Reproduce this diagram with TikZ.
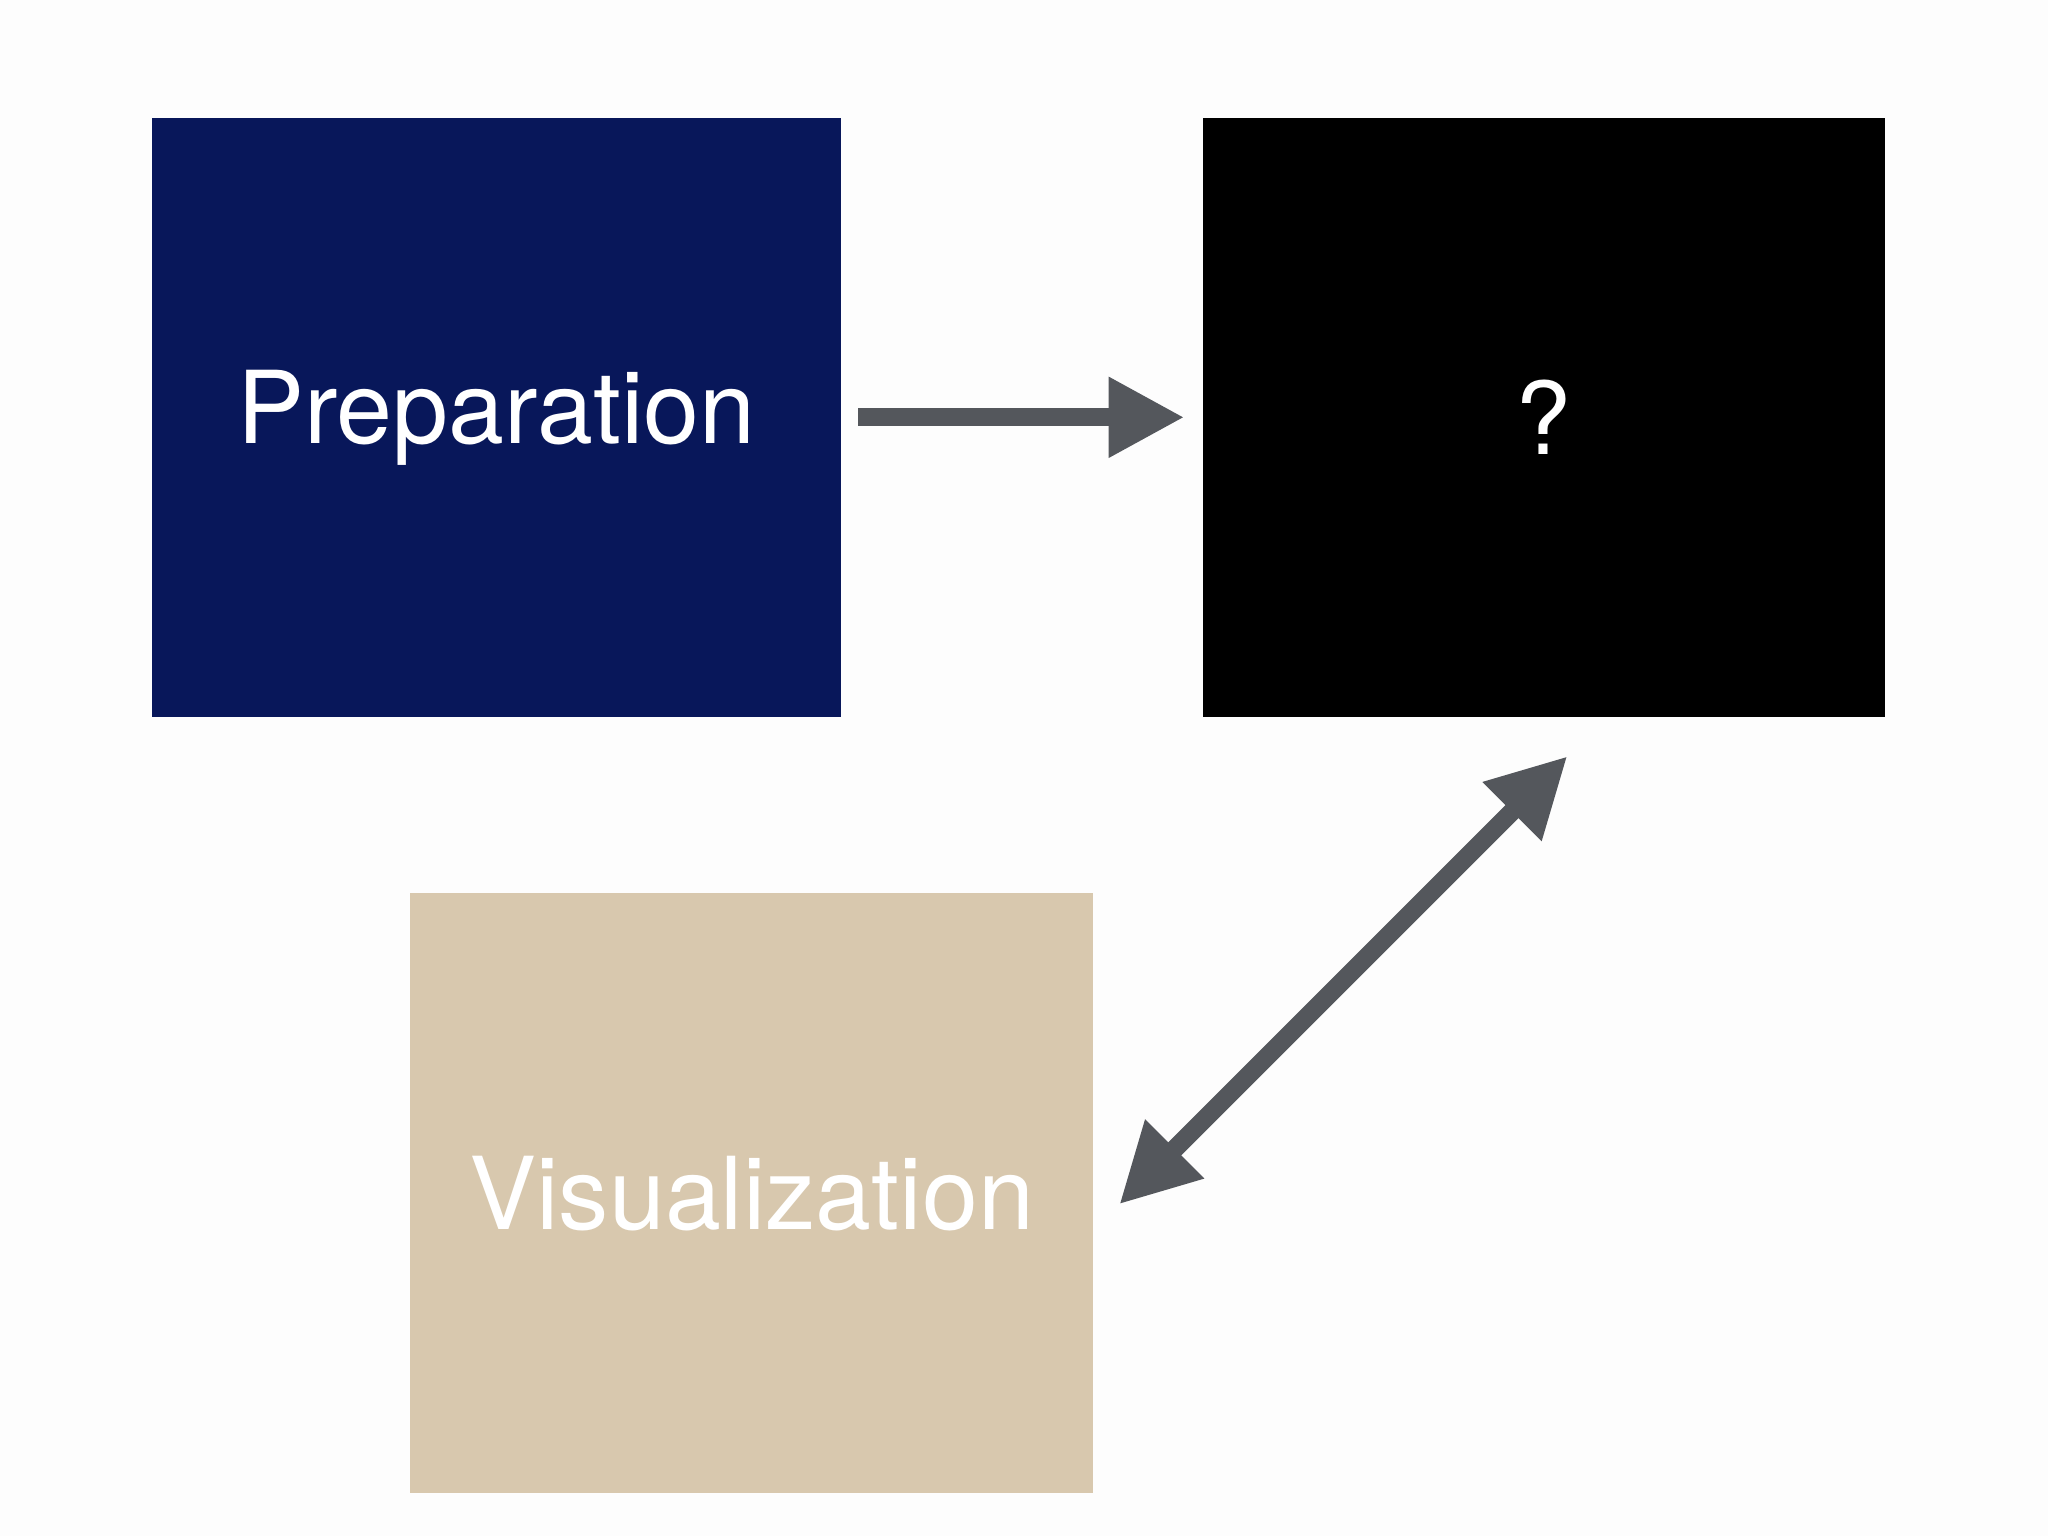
\documentclass[tikz,border=0pt]{standalone}
\usepackage{fontspec}
\setmainfont{TeX Gyre Heros}
\usetikzlibrary{arrows.meta}
\definecolor{navy}{HTML}{08175A}
\definecolor{beige}{HTML}{D8C8AE}
\definecolor{arr}{HTML}{54575C}
\definecolor{bg}{HTML}{FDFDFD}
\begin{document}
\begin{tikzpicture}[x=1pt,y=-1pt,
  box/.style={draw=none,inner sep=0pt,minimum width=#1,minimum height=459,text=white,font=\fontsize{77}{80}\selectfont},
  conn/.style={draw=arr,line width=14,-{Triangle[length=58,width=58]}}]
\fill[bg] (0,0) rectangle (1568,1176);
\useasboundingbox (0,0) rectangle (1568,1176);
\node[box=528,fill=navy] (prep) at (380,319.5) {Preparation};
\node[box=522,fill=black] (q) at (1182,319.5) {?};
\node[box=523,fill=beige] (vis) at (575.5,913.5) {Visualization};
\draw[conn,shorten <=13,shorten >=14] (prep.east) -- (q.west);
\coordinate (d1) at (1200,579);
\coordinate (d2) at (857,922);
\draw[conn,{Triangle[length=60,width=60]}-{Triangle[length=60,width=60]}] (d2) -- (d1);
\end{tikzpicture}
\end{document}
